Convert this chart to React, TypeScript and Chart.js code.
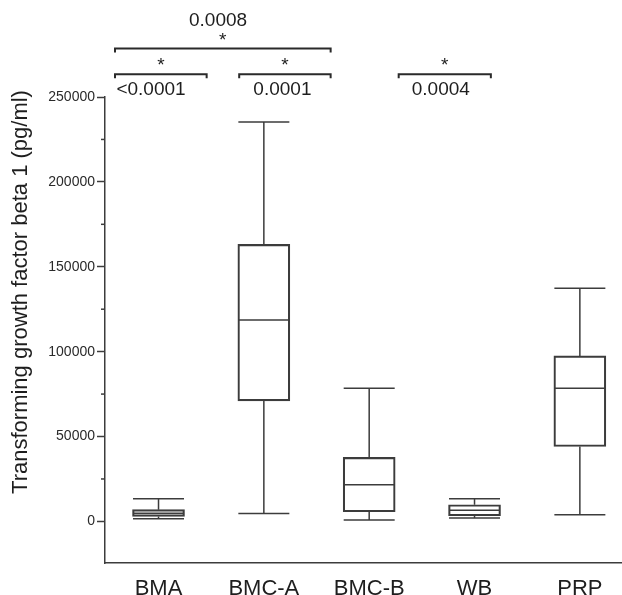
import React, { useEffect, useRef } from 'react';
import { Chart, registerables } from 'chart.js';

Chart.register(...registerables);

const FONT = '"Liberation Sans", Arial, Helvetica, sans-serif';

const categories = ['BMA', 'BMC-A', 'BMC-B', 'WB', 'PRP'];
const whiskerMin = [1600, 4700, 800, 2000, 3900];
const q1 = [2950, 71000, 5700, 3350, 44100];
const median = [4800, 118700, 21600, 6500, 78500];
const q3 = [6900, 163200, 37700, 9800, 97500];
const whiskerMax = [13300, 235300, 78500, 13300, 137300];
const yTicks = [0, 25000, 50000, 75000, 100000, 125000, 150000, 175000, 200000, 225000, 250000];
const yTitle = 'Transforming growth factor beta 1 (pg/ml)';

// significance brackets: from/to in category units, level in y-value units
const bracketFrom = [-0.413, -0.413, 0.766, 2.28];
const bracketTo = [1.634, 0.457, 1.634, 3.155];
const bracketLevel = [278500, 263400, 263400, 263400];
const bracketStar = ['*', '*', '*', '*'];
const bracketP = ['0.0008', '<0.0001', '0.0001', '0.0004'];
const bracketPX = [0.565, -0.071, 1.176, 2.68];
const bracketPAbove = [true, false, false, false];

const LINE = '#3c3c3c';

const boxPlugin = {
  id: 'boxExtras',
  afterDatasetsDraw(chart: any) {
    const { ctx, scales } = chart;
    const x = scales.x;
    const y = scales.y;
    const half = 25.5;
    ctx.save();
    ctx.strokeStyle = LINE;
    ctx.lineWidth = 1.5;
    categories.forEach((_, i) => {
      const cx = x.getPixelForValue(i);
      const pMax = y.getPixelForValue(whiskerMax[i]);
      const pMin = y.getPixelForValue(whiskerMin[i]);
      const pQ1 = y.getPixelForValue(q1[i]);
      const pQ3 = y.getPixelForValue(q3[i]);
      const pMed = y.getPixelForValue(median[i]);
      ctx.beginPath();
      ctx.moveTo(cx, pQ3);
      ctx.lineTo(cx, pMax);
      ctx.moveTo(cx - half, pMax);
      ctx.lineTo(cx + half, pMax);
      ctx.moveTo(cx, pQ1);
      ctx.lineTo(cx, pMin);
      ctx.moveTo(cx - half, pMin);
      ctx.lineTo(cx + half, pMin);
      ctx.moveTo(cx - half, pMed);
      ctx.lineTo(cx + half, pMed);
      ctx.stroke();
    });
    ctx.restore();
  },
  afterDraw(chart: any) {
    const { ctx, scales } = chart;
    const x = scales.x;
    const y = scales.y;
    ctx.save();
    // minor ticks
    ctx.strokeStyle = LINE;
    ctx.lineWidth = 1.5;
    yTicks.forEach((v) => {
      if (v % 50000 !== 0) {
        const py = y.getPixelForValue(v);
        ctx.beginPath();
        ctx.moveTo(y.right - 4, py);
        ctx.lineTo(y.right, py);
        ctx.stroke();
      }
    });
    // brackets
    ctx.strokeStyle = '#2a2a2a';
    ctx.fillStyle = '#1e1e1e';
    ctx.lineWidth = 2;
    bracketFrom.forEach((f, i) => {
      const x1 = x.getPixelForValue(f);
      const x2 = x.getPixelForValue(bracketTo[i]);
      const py = y.getPixelForValue(bracketLevel[i]);
      ctx.beginPath();
      ctx.moveTo(x1, py + 4);
      ctx.lineTo(x1, py);
      ctx.lineTo(x2, py);
      ctx.lineTo(x2, py + 4);
      ctx.stroke();
      const mid = (x1 + x2) / 2;
      ctx.textAlign = 'center';
      ctx.textBaseline = 'middle';
      ctx.font = `19px ${FONT}`;
      ctx.fillText(bracketStar[i], mid, py - 8);
      const px = x.getPixelForValue(bracketPX[i]);
      if (bracketPAbove[i]) {
        ctx.fillText(bracketP[i], px, py - 28);
      } else {
        ctx.fillText(bracketP[i], px, py + 16);
      }
    });
    // y title
    ctx.translate(21, 292);
    ctx.rotate(-Math.PI / 2);
    ctx.textAlign = 'center';
    ctx.textBaseline = 'middle';
    ctx.font = `22px ${FONT}`;
    ctx.fillStyle = '#1e1e1e';
    ctx.fillText(yTitle, 0, 0);
    ctx.restore();
  },
};

export default function App() {
  const ref = useRef<HTMLCanvasElement | null>(null);
  useEffect(() => {
    if (!ref.current) return;
    const chart = new Chart(ref.current, {
      type: 'bar',
      data: {
        datasets: [
          {
            data: categories.map((_, i) => ({ x: i, y: [q1[i], q3[i]] })) as any,
            backgroundColor: 'rgba(255,255,255,0)',
            borderColor: LINE,
            borderWidth: 1.5,
            borderSkipped: false,
            barThickness: 52,
          } as any,
        ],
      },
      options: {
        animation: false,
        responsive: false,
        maintainAspectRatio: false,
        layout: { padding: { top: 97, left: 0, right: 0, bottom: 0 } },
        plugins: {
          legend: { display: false },
          tooltip: { enabled: false },
          title: { display: false },
        },
        scales: {
          x: {
            type: 'linear',
            offset: false,
            min: -0.508,
            max: 4.4,
            afterBuildTicks: (s: any) => {
              s.ticks = categories.map((_, i) => ({ value: i }));
            },
            afterFit: (s: any) => {
              s.height = 32;
            },
            ticks: {
              callback: (v: any) => categories[v] ?? '',
              font: { size: 22, family: FONT },
              color: '#1e1e1e',
              padding: 13,
              maxRotation: 0,
              autoSkip: false,
            },
            grid: { display: false, drawTicks: false, offset: false },
            border: { display: true, color: LINE, width: 1.5 },
          },
          y: {
            type: 'linear',
            min: -24500,
            max: 250000,
            afterBuildTicks: (s: any) => {
              s.ticks = yTicks.map((v) => ({ value: v }));
            },
            afterFit: (s: any) => {
              s.width = 105;
            },
            ticks: {
              callback: (v: any) => (v % 50000 === 0 ? String(v) : ''),
              font: { size: 14, family: FONT },
              color: '#2a2a2a',
              padding: 2,
              autoSkip: false,
            },
            grid: {
              drawOnChartArea: false,
              drawTicks: true,
              tickLength: 8,
              tickWidth: 1.5,
              tickColor: (c: any) => (c.tick && c.tick.value % 50000 === 0 ? LINE : 'rgba(0,0,0,0)'),
            },
            border: { display: true, color: LINE, width: 1.5 },
          },
        },
      } as any,
      plugins: [boxPlugin],
    });
    return () => chart.destroy();
  }, []);
  return (
    <div style={{ position: 'fixed', left: 0, top: 0, width: 622, height: 595, background: '#fff' }}>
      <canvas ref={ref} width={622} height={595} style={{ display: 'block' }} />
    </div>
  );
}
